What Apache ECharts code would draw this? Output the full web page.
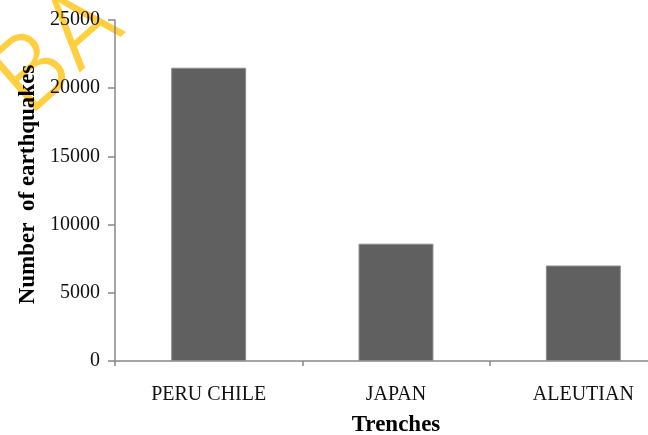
<!DOCTYPE html>
<html>
<head>
<meta charset="utf-8">
<script src="https://cdn.jsdelivr.net/npm/echarts@6/dist/echarts.min.js"></script>
<style>
html,body{margin:0;padding:0;background:#fff;}
#chart{width:648px;height:435px;}
</style>
</head>
<body>
<div id="chart"></div>
<script>
var categories = ['PERU CHILE', 'JAPAN', 'ALEUTIAN'];
var earthquakes = [21500, 8600, 7000];
var yTicks = [0, 5000, 10000, 15000, 20000, 25000];
var xTitle = 'Trenches';
var yTitle = 'Number  of earthquakes';

var serif = '"Liberation Serif", "Times New Roman", serif';
var chart = echarts.init(document.getElementById('chart'));
chart.setOption({
  backgroundColor: '#ffffff',
  animation: false,
  graphic: [{
    type: 'text',
    left: -24,
    top: -30,
    rotation: 0.72,
    z: -10,
    style: {
      text: 'BA',
      fill: '#FFCF40',
      font: '300 100px Inter, "DejaVu Sans", sans-serif'
    }
  }],
  grid: { left: 115, width: 562, top: 20, bottom: 74, containLabel: false, outerBoundsMode: 'none' },
  xAxis: {
    type: 'category',
    data: categories,
    name: xTitle,
    nameLocation: 'middle',
    nameGap: 53,
    nameTextStyle: { fontFamily: serif, fontSize: 23, fontWeight: 'bold', color: '#000' },
    axisLine: { lineStyle: { color: '#888', width: 1.5 } },
    axisTick: { show: true, length: 5, lineStyle: { color: '#888', width: 1.5 } },
    axisLabel: { fontFamily: serif, fontSize: 20, color: '#111', margin: 24 }
  },
  yAxis: {
    type: 'value',
    min: yTicks[0],
    max: yTicks[yTicks.length - 1],
    interval: 5000,
    name: yTitle,
    nameLocation: 'middle',
    nameGap: 73,
    nameTextStyle: { fontFamily: serif, fontSize: 23, fontWeight: 'bold', color: '#000', padding: [0, 0, 0, 12] },
    axisLine: { show: true, lineStyle: { color: '#888', width: 1.5 } },
    axisTick: { show: true, length: 7, lineStyle: { color: '#888', width: 1.5 } },
    axisLabel: { fontFamily: serif, fontSize: 20, color: '#111', margin: 15,
      formatter: function (v) { return String(v); } },
    splitLine: { show: false }
  },
  series: [{
    type: 'bar',
    data: earthquakes,
    barWidth: '40%',
    itemStyle: { color: '#606060', borderColor: '#8c8c8c', borderWidth: 1 }
  }]
});
</script>
</body>
</html>
